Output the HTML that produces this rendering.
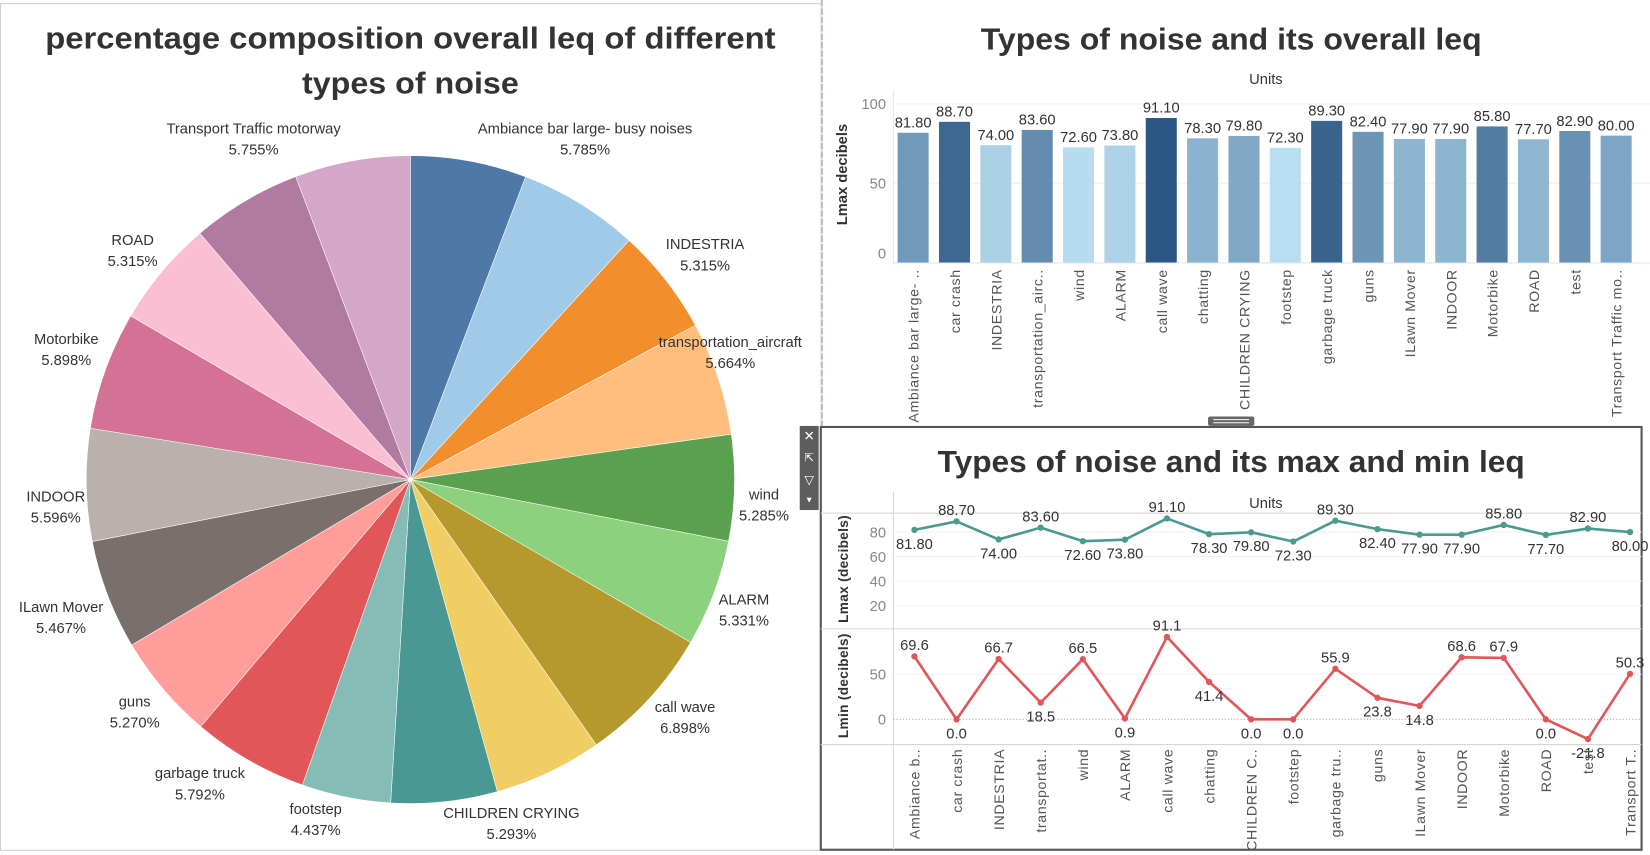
<!DOCTYPE html>
<html><head><meta charset="utf-8"><style>
html,body{margin:0;padding:0;background:#fff;overflow:hidden}
svg{display:block;font-family:"Liberation Sans",sans-serif}
</style></head><body>
<svg id="root" width="1650" height="855" viewBox="0 0 1568 813" preserveAspectRatio="none" xmlns="http://www.w3.org/2000/svg">
<rect x="0" y="0" width="1568" height="813" fill="#fff"/>
<rect x="0.5" y="3.5" width="780" height="805" fill="none" stroke="#cfcfcf"/>
<line x1="781" y1="0" x2="781" y2="405" stroke="#b4bccb" stroke-width="2" stroke-dasharray="6,2"/>
<text x="390" y="46" text-anchor="middle" font-size="29" font-weight="bold" fill="#333" textLength="694" lengthAdjust="spacingAndGlyphs">percentage composition overall leq of different</text>
<text x="390" y="89" text-anchor="middle" font-size="29" font-weight="bold" fill="#333" textLength="206" lengthAdjust="spacingAndGlyphs">types of noise</text>
<g id="pie"></g>
<g id="pielabels"></g>

<text x="1170" y="47" text-anchor="middle" font-size="29" font-weight="bold" fill="#333" textLength="476" lengthAdjust="spacingAndGlyphs">Types of noise and its overall leq</text>
<text x="1203" y="80" text-anchor="middle" font-size="14" fill="#333">Units</text>
<text transform="translate(805,166) rotate(-90)" text-anchor="middle" font-size="14" font-weight="bold" fill="#333">Lmax decibels</text>
<g id="bars"></g>
<rect x="1148" y="396" width="44" height="9" rx="2" fill="#666"/>
<line x1="1153" y1="399" x2="1187" y2="399" stroke="#fff"/><line x1="1153" y1="402" x2="1187" y2="402" stroke="#fff"/>

<rect x="780" y="406" width="780" height="402" fill="#fff" stroke="#555" stroke-width="2"/>
<g>
<rect x="760" y="405" width="18" height="80" fill="#5d5d5d"/>
<text x="769" y="419" text-anchor="middle" font-size="13" fill="#fff">✕</text>
<text x="769" y="439" text-anchor="middle" font-size="11" fill="#fff">⇱</text>
<text x="769" y="460" text-anchor="middle" font-size="12" fill="#fff">▽</text>
<text x="769" y="478" text-anchor="middle" font-size="8" fill="#fff">▼</text>
</g>
<text x="1170" y="449" text-anchor="middle" font-size="29" font-weight="bold" fill="#333" textLength="558" lengthAdjust="spacingAndGlyphs">Types of noise and its max and min leq</text>
<text x="1203" y="483" text-anchor="middle" font-size="14" fill="#333">Units</text>
<text transform="translate(806,541) rotate(-90)" text-anchor="middle" font-size="13" font-weight="bold" fill="#333" letter-spacing="0.3">Lmax (decibels)</text>
<text transform="translate(806,652) rotate(-90)" text-anchor="middle" font-size="13" font-weight="bold" fill="#333" letter-spacing="0.3">Lmin (decibels)</text>
<g id="lines"></g>
</svg>
<script>
const categories = ["Ambiance bar large- busy noises","car crash","INDESTRIA","transportation_aircraft","wind","ALARM","call wave","chatting","CHILDREN CRYING","footstep","garbage truck","guns","ILawn Mover","INDOOR","Motorbike","ROAD","test","Transport Traffic motorway"];
const barLabels = ["Ambiance bar large- ..","car crash","INDESTRIA","transportation_airc..","wind","ALARM","call wave","chatting","CHILDREN CRYING","footstep","garbage truck","guns","ILawn Mover","INDOOR","Motorbike","ROAD","test","Transport Traffic mo.."];
const lineLabels = ["Ambiance b..","car crash","INDESTRIA","transportat..","wind","ALARM","call wave","chatting","CHILDREN C..","footstep","garbage tru..","guns","ILawn Mover","INDOOR","Motorbike","ROAD","test","Transport T.."];
const sharePct = [5.785,6.0,5.315,5.664,5.285,5.331,6.898,5.4,5.293,4.437,5.792,5.270,5.467,5.596,5.898,5.315,5.5,5.755];
const pieShowLabel = [true,false,true,true,true,true,true,false,true,true,true,true,true,true,true,true,false,true];
const lmax = [81.8,88.7,74.0,83.6,72.6,73.8,91.1,78.3,79.8,72.3,89.3,82.4,77.9,77.9,85.8,77.7,82.9,80.0];
const lmin = [69.6,0.0,66.7,18.5,66.5,0.9,91.1,41.4,0.0,0.0,55.9,23.8,14.8,68.6,67.9,0.0,-21.8,50.3];
const barTicks = [0,50,100];
const lmaxTicks = [20,40,60,80];
const lminTicks = [0,50];

// label layout (positions of pie label text, by slice index)
const pieLabelLayout = {0:[556,127],2:[670,237],3:[694,330],4:[726,475],5:[707,575],6:[651,677],8:[486,778],9:[300,774],10:[190,740],11:[128,672],12:[58,582],13:[53,477],14:[63,327],15:[126,233],17:[241,127]};

const NS="http://www.w3.org/2000/svg";
function mk(tag,attrs,parent,txt){const e=document.createElementNS(NS,tag);for(const k in attrs)e.setAttribute(k,attrs[k]);if(txt!==undefined)e.textContent=txt;parent.appendChild(e);return e;}
const pieColors=["#4e79a7","#a0cbe8","#f28e2b","#ffbe7d","#59a14f","#8cd17d","#b6992d","#f1ce63","#499894","#86bcb6","#e15759","#ff9d9a","#79706e","#bab0ac","#d37295","#fabfd2","#b07aa1","#d4a6c8"];

// PIE
const pie=document.getElementById('pie'), pl=document.getElementById('pielabels');
const cx=390, cy=456, R=308;
const total=sharePct.reduce((a,b)=>a+b,0);
let a0=0;
sharePct.forEach((v,i)=>{
  const a1=a0+v/total*360;
  const p=a=>[cx+R*Math.sin(a*Math.PI/180), cy-R*Math.cos(a*Math.PI/180)];
  const s=p(a0), e=p(a1);
  const path=mk('path',{d:`M${cx},${cy}L${s[0]},${s[1]}A${R},${R} 0 ${a1-a0>180?1:0} 1 ${e[0]},${e[1]}Z`,fill:pieColors[i],stroke:"#fff","stroke-width":"0.5"},pie);
  
  
  if(pieShowLabel[i]){
    let lx,ly;
    if(pieLabelLayout[i]){[lx,ly]=pieLabelLayout[i];}
    else{const m=(a0+a1)/2;lx=cx+350*Math.sin(m*Math.PI/180);ly=cy-350*Math.cos(m*Math.PI/180);}
    const t=mk('text',{x:lx,y:ly,"text-anchor":"middle","font-size":"14",fill:"#333"},pl,categories[i]);
    
    
    const t2=mk('text',{x:lx,y:ly+20,"text-anchor":"middle","font-size":"14",fill:"#333"},pl,v.toFixed(3)+"%");
    
    
  }
  a0=a1;
});

// BARS
const bars=document.getElementById('bars');
const bx=i=>853+i*39.3, by=v=>249.6-1.508*v;
mk('line',{x1:849,y1:86,x2:849,y2:252,stroke:"#e6e6e6"},bars);
mk('line',{x1:849,y1:250,x2:1568,y2:250,stroke:"#e6e6e6"},bars);
barTicks.forEach(t=>{
  if(t>0) mk('line',{x1:849,y1:by(t),x2:1568,y2:by(t),stroke:"#efefef"},bars);
  const tt=mk('text',{x:842,y:by(t)+(t===0?-4:5),"text-anchor":"end","font-size":"14",fill:"#888"},bars,String(t));
  
  
});
const mn=Math.min(...lmax), mx=Math.max(...lmax);
function col(v){const f=(v-mn)/(mx-mn);const c0=[185,221,241],c1=[42,87,131];return `rgb(${c0.map((c,k)=>Math.round(c+(c1[k]-c)*f)).join(',')})`;}
lmax.forEach((v,i)=>{
  const r=mk('rect',{x:bx(i),y:by(v),width:29.5,height:by(0)-by(v),fill:col(v)},bars);
  
  
  const t=mk('text',{x:bx(i)+14.75,y:by(v)-5,"text-anchor":"middle","font-size":"14",fill:"#333"},bars,v.toFixed(2));
  
  
  const xl=mk('text',{transform:`translate(${bx(i)+20},256) rotate(-90)`,"text-anchor":"end","font-size":"13.5",fill:"#555","letter-spacing":"0.6"},bars,barLabels[i]);
  
  
});

// LINES
const lg=document.getElementById('lines');
const lx=i=>869+i*40;
const ymax=v=>599.3-1.167*v, ymin=v=>684-0.86*v;
[[849,468,849,808],[780,488,1560,488],[780,598,1560,598],[780,708,1560,708]].forEach(l=>mk('line',{x1:l[0],y1:l[1],x2:l[2],y2:l[3],stroke:"#d6d6d6"},lg));
lmaxTicks.forEach(t=>{
  mk('line',{x1:849,y1:ymax(t),x2:1560,y2:ymax(t),stroke:"#f0f0f0"},lg);
  const tt=mk('text',{x:842,y:ymax(t)+5,"text-anchor":"end","font-size":"14",fill:"#888"},lg,String(t));
  
  
});
lminTicks.forEach(t=>{
  if(t===0) mk('line',{x1:849,y1:ymin(0),x2:1560,y2:ymin(0),stroke:"#aaa","stroke-dasharray":"1,2"},lg);
  else mk('line',{x1:849,y1:ymin(t),x2:1560,y2:ymin(t),stroke:"#f0f0f0"},lg);
  const tt=mk('text',{x:842,y:ymin(t)+5,"text-anchor":"end","font-size":"14",fill:"#888"},lg,String(t));
  
  
});
function series(vals,yf,color,tol,dec,name){
  const pl=mk('polyline',{points:vals.map((v,i)=>lx(i)+','+yf(v)).join(' '),fill:"none",stroke:color,"stroke-width":"2.5","stroke-linejoin":"round"},lg);
  
  
  vals.forEach((v,i)=>{
    const c=mk('circle',{cx:lx(i),cy:yf(v),r:3,fill:color},lg);
    
    
    const nb=[vals[i-1],vals[i+1]].filter(x=>x!==undefined);
    const above=v>=Math.max(...nb)-tol;
    const t=mk('text',{x:lx(i),y:above?yf(v)-6:yf(v)+18,"text-anchor":"middle","font-size":"14",fill:"#333"},lg,v.toFixed(dec));
    
    
  });
}
series(lmax,ymax,"#4a9a90",-2,2,'lmax');
series(lmin,ymin,"#e15759",5,1,'lmin');
lineLabels.forEach((s,i)=>{
  const t=mk('text',{transform:`translate(${lx(i)+5},712) rotate(-90)`,"text-anchor":"end","font-size":"13.5",fill:"#555","letter-spacing":"0.6"},lg,s);
  
  
});
</script>
</body></html>
